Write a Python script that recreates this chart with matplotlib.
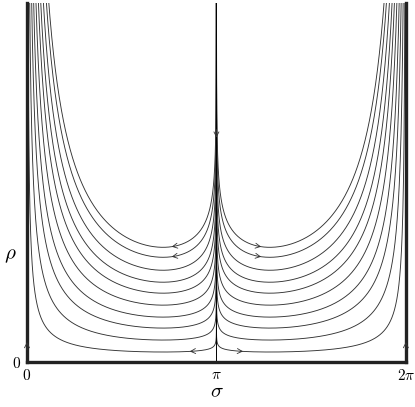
import numpy as np
import matplotlib
matplotlib.use("Agg")
import matplotlib.pyplot as plt

plt.rcParams['mathtext.fontset'] = 'cm'
plt.rcParams['font.family'] = ['DejaVu Serif']

# minimum heights of the trajectories (read at their lowest point)
levels = [1.0, 2.2, 3.4, 4.5, 5.7, 6.9, 8.0, 9.2, 10.5, 11.5]
# trajectories that carry arrows, and where (sigma on the left half)
arrow_curves = [0, 8, 9]
arrow_sigma = {0: 2.75, 8: 2.45, 9: 2.45}
xtick_pos = [0, np.pi, 2 * np.pi]
xtick_lab = ['$0$', '$\\pi$', '$2\\pi$']

# shape of the orbits: rho = C * F(sigma) / min F
a, b = 0.8, 0.18


def shape(s):
    return 1.0 / (np.sin(s / 2) ** a * np.abs(np.cos(s / 2)) ** b)


s_min = 2 * np.arctan(np.sqrt(a / b))
f_min = shape(s_min)

s_left = np.concatenate([np.geomspace(1e-12, np.pi / 2, 3000),
                         np.pi - np.geomspace(np.pi / 2, 1e-15, 3000)[1:]])

fig = plt.figure(figsize=(4.15, 4.07), dpi=100)
ax = fig.add_axes([0.065, 0.1106, 0.913, 0.882])

col = '#333333'
for i, c in enumerate(levels):
    r = c * shape(s_left) / f_min
    ax.plot(s_left, r, color=col, lw=0.65)
    ax.plot(2 * np.pi - s_left, r, color=col, lw=0.65)
    if i in arrow_curves:
        s0 = arrow_sigma[i]
        for sa, sb in [(s0, s0 - 0.05), (2 * np.pi - s0, 2 * np.pi - s0 + 0.05)]:
            ax.annotate('', xy=(sb, c * shape(np.minimum(sb, 2*np.pi - sb)) / f_min),
                        xytext=(sa, c * shape(np.minimum(sa, 2*np.pi - sa)) / f_min),
                        arrowprops=dict(arrowstyle='->,head_length=0.35,head_width=0.18',
                                        lw=0.6, color=col, shrinkA=0, shrinkB=0))

# separatrix at sigma = pi
ax.plot([np.pi, np.pi], [0, 40], color='black', lw=0.7)
ax.annotate('', xy=(np.pi, 22.5), xytext=(np.pi, 23.3),
            arrowprops=dict(arrowstyle='->,head_length=0.35,head_width=0.18',
                            lw=0.6, color=col, shrinkA=0, shrinkB=0))
# walls
for xw in [0, 2 * np.pi]:
    ax.annotate('', xy=(xw, 2.0), xytext=(xw, 1.2),
                arrowprops=dict(arrowstyle='->,head_length=0.35,head_width=0.18',
                                lw=0.6, color=col, shrinkA=0, shrinkB=0))

ax.set_xlim(0, 2 * np.pi)
ax.set_ylim(0, 36)
ax.spines['top'].set_visible(False)
for sp in ['left', 'right', 'bottom']:
    ax.spines[sp].set_linewidth(2.4)
    ax.spines[sp].set_color('#222222')

ax.set_xticks(xtick_pos)
ax.set_xticklabels(xtick_lab, fontsize=11)
ax.set_yticks([0])
ax.set_yticklabels(['$0$'], fontsize=11)
ax.tick_params(length=0, pad=4)

ax.set_xlabel('$\\sigma$', fontsize=15, labelpad=0)
ax.set_ylabel('$\\rho$', fontsize=15, rotation=0)
ax.yaxis.set_label_coords(-0.045, 0.27)

fig.savefig('out.png', dpi=100)
